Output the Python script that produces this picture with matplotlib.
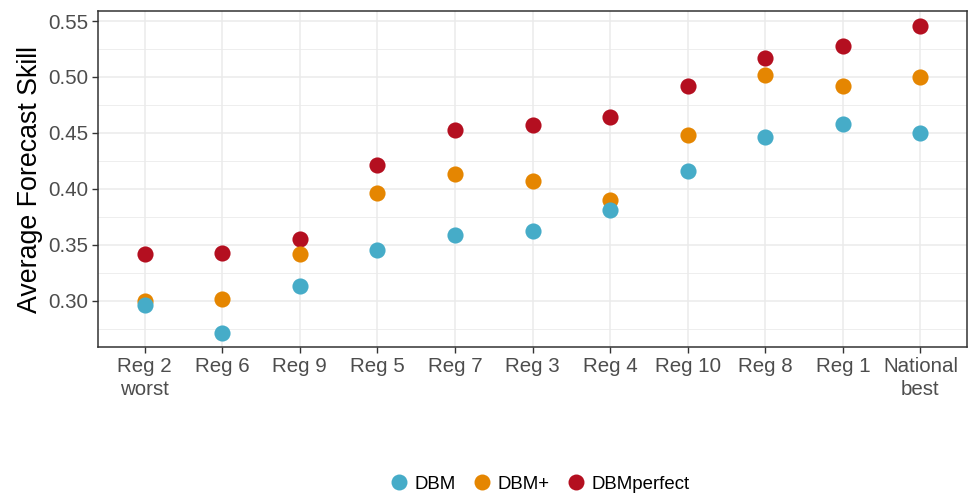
import matplotlib
matplotlib.use("Agg")
import matplotlib.pyplot as plt
from matplotlib.lines import Line2D
from matplotlib.ticker import MultipleLocator

plt.rcParams['font.family'] = ['Liberation Sans', 'DejaVu Sans']

# regions, ordered worst to best
regions = ["Reg 2\nworst", "Reg 6", "Reg 9", "Reg 5", "Reg 7", "Reg 3",
           "Reg 4", "Reg 10", "Reg 8", "Reg 1", "National\nbest"]

dbm = [0.296, 0.271, 0.313, 0.345, 0.359, 0.362, 0.381, 0.416, 0.446, 0.458, 0.450]
dbm_plus = [0.300, 0.301, 0.342, 0.396, 0.413, 0.407, 0.390, 0.448, 0.502, 0.492, 0.500]
dbm_perfect = [0.342, 0.343, 0.355, 0.421, 0.453, 0.457, 0.464, 0.492, 0.517, 0.528, 0.546]

series_names = ["DBM", "DBM+", "DBMperfect"]
colors = {"DBM": "#46ACC8", "DBM+": "#E58601", "DBMperfect": "#B40F20"}

fig = plt.figure(figsize=(9.69, 4.94), dpi=100)
ax = fig.add_axes([98 / 969, 1 - 347 / 494, (967 - 98) / 969, (347 - 11) / 494])

x = list(range(1, len(regions) + 1))

# drawn so that DBM sits on top, as in the original
ax.scatter(x, dbm_perfect, s=135, color=colors["DBMperfect"], zorder=3, linewidths=0)
ax.scatter(x, dbm_plus, s=135, color=colors["DBM+"], zorder=4, linewidths=0)
ax.scatter(x, dbm, s=135, color=colors["DBM"], zorder=5, linewidths=0)

ax.set_xlim(0.4, 11.6)
ax.set_ylim(0.2585, 0.559)
ax.set_xticks(x)
ax.set_xticklabels(regions, linespacing=1.3)
ax.yaxis.set_minor_locator(MultipleLocator(0.025))
ax.set_yticks([0.30, 0.35, 0.40, 0.45, 0.50, 0.55])
ax.set_yticklabels(["0.30", "0.35", "0.40", "0.45", "0.50", "0.55"])

ax.grid(True, which="major", color="#EBEBEB", linewidth=1.1, zorder=0)
ax.grid(True, which="minor", axis="y", color="#EBEBEB", linewidth=0.6, zorder=0)
ax.set_axisbelow(True)

for side in ax.spines.values():
    side.set_color("#333333")
    side.set_linewidth(1.1)

ax.tick_params(axis="both", which="major", length=4, width=1, color="#333333",
               labelcolor="#4D4D4D", labelsize=14.8, pad=3)
ax.tick_params(axis="y", which="minor", length=0)
ax.set_ylabel("Average Forecast Skill", fontsize=19.3, color="black", labelpad=4)

handles = [Line2D([], [], marker="o", linestyle="", markersize=11.5,
                  markerfacecolor=colors[n], markeredgewidth=0) for n in series_names]
fig.legend(handles, series_names, loc="center", bbox_to_anchor=(538 / 969, 1 - 484 / 494),
           ncol=3, frameon=False, fontsize=13.4, handletextpad=0.15, columnspacing=0.7,
           handlelength=1.4)

fig.savefig("out.png", dpi=100)
